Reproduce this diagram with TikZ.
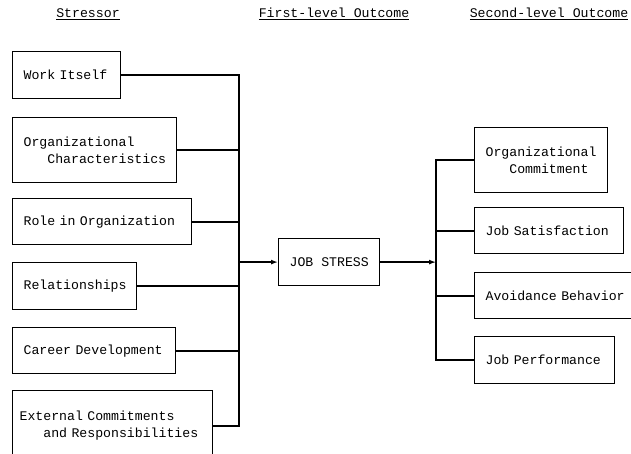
\documentclass[tikz,border=0pt]{standalone}
\usepackage{fontspec}
\setmonofont{Liberation Mono}
\usetikzlibrary{arrows.meta}
\begin{document}
\begin{tikzpicture}[x=1pt,y=-1pt,
  box/.style={draw,black,line width=1.2pt,anchor=north west,align=left,inner xsep=11pt,
    font=\ttfamily\fontsize{13.2}{17}\selectfont},
  link/.style={black,line width=2pt,line cap=rect},
  head/.style={font=\ttfamily\fontsize{13.2}{15}\selectfont},
  tip/.style={-{Latex[length=7pt,width=5pt]},line cap=butt}]
\useasboundingbox (0,0) rectangle (631,454);
\node[head] (stressor) at (88,14) {\underline{Stressor}};
\node[head] (first) at (334,14) {\underline{First-level Outcome}};
\node[head] (second) at (549,14) {\underline{Second-level Outcome}};
\node[box,text width=86pt,minimum height=47pt] (work) at (12,51) {Work Itself};
\node[box,text width=142pt,minimum height=65pt] (orgchar) at (12,117) {Organizational\\\hspace*{1.8em}Characteristics};
\node[box,text width=157pt,minimum height=46pt] (role) at (12,198) {Role in Organization};
\node[box,text width=102pt,minimum height=47pt] (rel) at (12,262) {Relationships};
\node[box,text width=141pt,minimum height=46pt] (career) at (12,327) {Career Development};
\node[box,text width=186pt,inner xsep=7pt,minimum height=70pt] (ext) at (12,390) {External Commitments\\\hspace*{1.8em}and Responsibilities};
\node[box,align=center,minimum width=101pt,minimum height=47pt] (stress) at (278,238) {JOB STRESS};
\node[box,text width=111pt,minimum height=65pt] (commit) at (474,127) {Organizational\\\hspace*{1.8em}Commitment};
\node[box,text width=127pt,minimum height=46pt] (satis) at (474,207) {Job Satisfaction};
\node[box,text width=149pt,minimum height=46pt] (avoid) at (474,272) {Avoidance Behavior};
\node[box,text width=118pt,minimum height=47pt] (perf) at (474,336) {Job Performance};
\coordinate (lbus) at (239,0);
\coordinate (rbus) at (436,0);
\foreach \n in {work,orgchar,role,rel,career,ext}
  \draw[link] (\n.east) -- (\n.east -| lbus);
\draw[link] (work.east -| lbus) -- (ext.east -| lbus);
\draw[link,tip] (lbus |- stress.west) -- (stress.west);
\draw[link,tip] (stress.east) -- (stress.east -| rbus);
\draw[link] (rbus |- commit.west) -- (rbus |- perf.west);
\foreach \n in {commit,satis,avoid,perf}
  \draw[link] (rbus |- \n.west) -- (\n.west);
\end{tikzpicture}
\end{document}
